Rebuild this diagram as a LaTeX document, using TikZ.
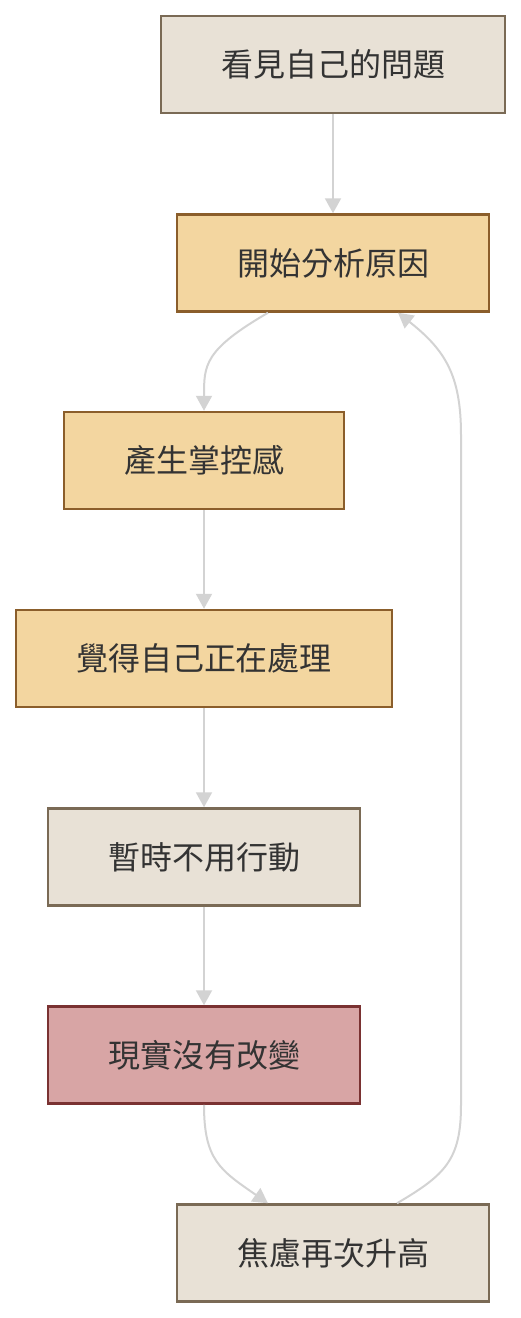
\documentclass[tikz,border=0pt]{standalone}
\usepackage{fontspec}
\setmainfont{Noto Sans CJK TC}
\usepackage{xcolor}
\usetikzlibrary{arrows.meta, positioning, calc}
\definecolor{ink}{HTML}{333333}
\definecolor{link}{HTML}{D3D3D3}
\definecolor{sand}{HTML}{E8E1D6}
\definecolor{sandline}{HTML}{7A6A55}
\definecolor{amber}{HTML}{F3D6A0}
\definecolor{amberline}{HTML}{8B5E2B}
\definecolor{rose}{HTML}{D8A5A5}
\definecolor{roseline}{HTML}{7A3232}
\tikzset{
  font=\fontsize{32}{38}\selectfont,
  >={Triangle[length=15pt, width=16pt]},
  %
  box/.style={
    draw=sandline, line width=2.5pt, fill=sand, text=ink,
    align=center, minimum height=97pt, inner sep=0pt,
  },
  boxa/.style={box, draw=amberline, fill=amber},
  boxr/.style={box, draw=roseline, fill=rose},
  %
  flow/.style={draw=link, line width=2pt, ->, color=link},
}
\begin{document}
\begin{tikzpicture}[x=1pt, y=1pt]
  \useasboundingbox (0,0) rectangle (521,-1318);

  % --- the nodes ----------------------------------------------------------
  \node[box,  minimum width=344pt] (see)     at (333,-64.5) {看見自己的問題};
  \node[boxa, minimum width=312pt] (analyse) at (333,-263)  {開始分析原因};
  \node[boxa, minimum width=280pt] (control) at (204,-460.5) {產生掌控感};
  \node[boxa, minimum width=376pt] (handle)  at (204,-658.5) {覺得自己正在處理};
  \node[box,  minimum width=312pt] (noact)   at (204,-857)  {暫時不用行動};
  \node[boxr, minimum width=312pt] (nochange) at (204,-1055) {現實沒有改變};
  \node[box,  minimum width=312pt] (anxiety) at (333,-1253) {焦慮再次升高};

  % --- the flow -----------------------------------------------------------
  \draw[flow] (see) -- (analyse);
  \draw[flow] ([xshift=-65pt]analyse.south)
    .. controls (204,-350) and (204,-365) .. (control.north);
  \draw[flow] (control) -- (handle);
  \draw[flow] (handle) -- (noact);
  \draw[flow] (noact) -- (nochange);
  \draw[flow] (nochange.south)
    .. controls (204,-1160) and (220,-1170) .. ([xshift=-65pt]anxiety.north);

  % --- the loop back ------------------------------------------------------
  \draw[flow] ([xshift=64pt]anxiety.north)
    .. controls (445,-1175) and (461,-1160) .. (461,-1105)
    -- (461,-435)
    .. controls (461,-375) and (445,-350) .. ([xshift=65pt]analyse.south);

\end{tikzpicture}
\end{document}
